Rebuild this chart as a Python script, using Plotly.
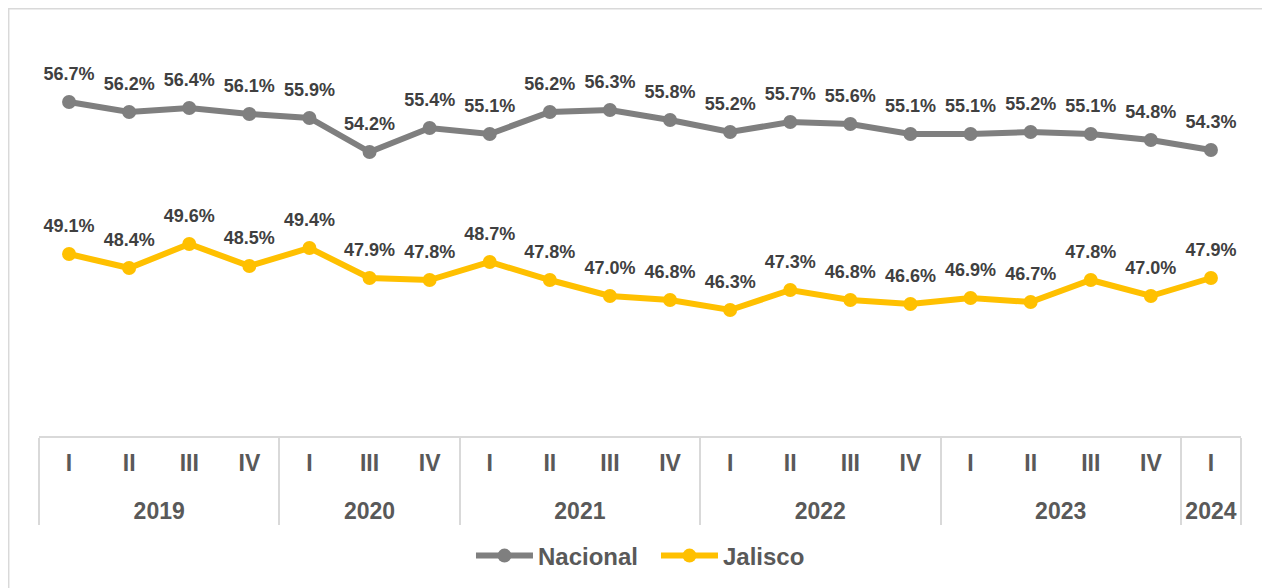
import plotly.graph_objects as go

years = ["2019", "2019", "2019", "2019",
         "2020", "2020", "2020",
         "2021", "2021", "2021", "2021",
         "2022", "2022", "2022", "2022",
         "2023", "2023", "2023", "2023",
         "2024"]
quarters = ["I", "II", "III", "IV",
            "I", "III", "IV",
            "I", "II", "III", "IV",
            "I", "II", "III", "IV",
            "I", "II", "III", "IV",
            "I"]
nacional = [56.7, 56.2, 56.4, 56.1, 55.9, 54.2, 55.4, 55.1, 56.2, 56.3,
            55.8, 55.2, 55.7, 55.6, 55.1, 55.1, 55.2, 55.1, 54.8, 54.3]
jalisco = [49.1, 48.4, 49.6, 48.5, 49.4, 47.9, 47.8, 48.7, 47.8, 47.0,
           46.8, 46.3, 47.3, 46.8, 46.6, 46.9, 46.7, 47.8, 47.0, 47.9]

FONT = "Liberation Sans, Arial, sans-serif"
GRAY = "#7f7f7f"
GOLD = "#ffc000"
LABEL = "#404040"
AXISTXT = "#595959"
LINEC = "#d9d9d9"

# quarter labels get an (invisible) spacer line so the year row sits lower
quarter_labels = [q + "<br><span style='font-size:2px'>\u00a0</span>" for q in quarters]
x = [years, quarter_labels]
fig = go.Figure()
for name, vals, col in [("Nacional", nacional, GRAY), ("Jalisco", jalisco, GOLD)]:
    fig.add_trace(go.Scatter(
        x=x, y=vals, name=name, mode="lines+markers",
        line=dict(color=col, width=6),
        marker=dict(color=col, size=14),
    ))
for vals in [nacional, jalisco]:
    fig.add_trace(go.Scatter(
        x=x, y=vals, mode="markers+text", showlegend=False,
        marker=dict(size=27, color="rgba(0,0,0,0)"),
        text=[f"{v:.1f}%" for v in vals], textposition="top center",
        textfont=dict(family=FONT, size=18, color=LABEL, weight="bold"),
        hoverinfo="skip",
    ))

fig.update_layout(
    width=1262, height=580,
    margin=dict(l=31, r=29, t=28, b=152, autoexpand=False),
    paper_bgcolor="white", plot_bgcolor="white",
    showlegend=True,
    legend=dict(orientation="h", x=0.5133, xanchor="center", y=-0.3, yanchor="middle",
                font=dict(family=FONT, size=24, color=AXISTXT, weight="bold"),
                itemwidth=57, entrywidth=113, entrywidthmode="pixels"),
    xaxis=dict(type="multicategory", range=[-0.5, 19.5], autorange=False,
               automargin=False,
               showline=True, linecolor=LINEC, linewidth=2,
               showdividers=True, dividercolor=LINEC, dividerwidth=2,
               ticks="", ticklabelstandoff=5,
               tickfont=dict(family=FONT, size=23, color=AXISTXT, weight="bold"),
               showgrid=False, zeroline=False, fixedrange=True),
    yaxis=dict(range=[40, 60], showgrid=False, zeroline=False, showticklabels=False,
               showline=False, fixedrange=True, automargin=False),
)
# outer chart border (open at the bottom)
fig.add_shape(type="path", xref="paper", yref="paper",
              path="M -0.0252,-0.5 L -0.0252,1.068 L 1.0225,1.068 L 1.0225,-0.5",
              line=dict(color=LINEC, width=1.5))

fig.write_html("out.html")
